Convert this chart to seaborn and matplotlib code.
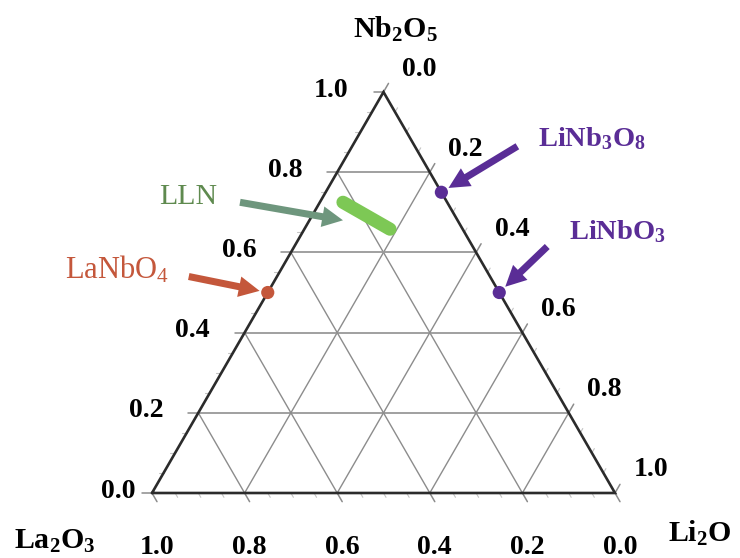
import numpy as np
import pandas as pd
import matplotlib
matplotlib.use("Agg")
import matplotlib.pyplot as plt
import seaborn as sns

# Ternary system La2O3 (bottom left) - Li2O (bottom right) - Nb2O5 (top)
corner_names = ["La$_2$O$_3$", "Li$_2$O", "Nb$_2$O$_5$"]
tick_values = [0.0, 0.2, 0.4, 0.6, 0.8, 1.0]
tick_labels = ["0.0", "0.2", "0.4", "0.6", "0.8", "1.0"]

# Known compounds, mole fractions (La2O3, Li2O, Nb2O5)
phase_names = ["LaNbO$_4$", "LiNb$_3$O$_8$", "LiNbO$_3$"]
phase_la = [0.5, 0.0, 0.0]
phase_li = [0.0, 0.25, 0.5]
phase_nb = [0.5, 0.75, 0.5]

# LLN solid-solution segment
lln_la = [0.225, 0.157]
lln_li = [0.050, 0.185]
lln_nb = [0.725, 0.658]

PX = 463.0          # pixels per unit triangle side
R3 = np.sqrt(3) / 2


def tern(li, nb):
    li = np.asarray(li, float)
    nb = np.asarray(nb, float)
    return li + nb / 2, nb * R3


sns.set_style("white")
plt.rcParams["font.family"] = ["Liberation Serif", "DejaVu Serif"]
plt.rcParams["mathtext.default"] = "regular"

fig = plt.figure(figsize=(7.4, 5.58), dpi=100)
ax = fig.add_axes([0, 0, 1, 1])
ax.set_xlim(-152 / PX, 588 / PX)
ax.set_ylim(-65 / PX, 493 / PX)
ax.set_axis_off()

grid_c = "#8c8c8c"
edge_c = "#2b2b2b"
tick_len = 10 / PX
minor_len = 5 / PX

# interior grid lines
for f in tick_values[1:-1]:
    # constant Nb2O5
    x, y = tern([0, 1 - f], [f, f])
    ax.plot(x, y, color="#999999", lw=1.3, zorder=1)
    # constant Li2O
    x, y = tern([f, f], [0, 1 - f])
    ax.plot(x, y, color=grid_c, lw=1.0, zorder=1)
    # constant La2O3
    x, y = tern([1 - f, 0], [0, 1 - f])
    ax.plot(x, y, color=grid_c, lw=1.0, zorder=1)

# outward tick marks (major every 0.2, minor every 0.05)
for f in np.arange(0, 1.0001, 0.05):
    major = any(abs(f - t) < 1e-6 for t in tick_values)
    L = tick_len if major else minor_len
    c = grid_c if major else "#c4c4c4"
    lw = 1.1 if major else 0.8
    # left edge (Nb2O5), horizontal to the left
    x0, y0 = tern(0, f)
    ax.plot([x0, x0 - L], [y0, y0], color=c, lw=lw, zorder=1)
    # right edge (Li2O), up-right
    x0, y0 = tern(f, 1 - f)
    ax.plot([x0, x0 + L * 0.5], [y0, y0 + L * R3], color=c, lw=lw, zorder=1)
    # bottom edge (La2O3), down-right
    x0, y0 = tern(1 - f, 0)
    ax.plot([x0, x0 + L * 0.5], [y0, y0 - L * R3], color=c, lw=lw, zorder=1)

# triangle outline
x, y = tern([0, 1, 0, 0], [0, 0, 1, 0])
ax.plot(x, y, color=edge_c, lw=1.9, zorder=2, solid_joinstyle="miter")

# tick labels
lab_kw = dict(fontsize=20, fontweight="bold", color="black",
              ha="center", va="center")
for f, s in zip(tick_values, tick_labels):
    x0, y0 = tern(0, f)
    dx = -34 if f == 0 else -52
    ax.text(x0 + dx / PX, y0 + 2 / PX, s, **lab_kw)
    x0, y0 = tern(f, 1 - f)
    ax.text(x0 + 36 / PX, y0 + 23 / PX, s, **lab_kw)
    x0, y0 = tern(1 - f, 0)
    ax.text(x0 + 5 / PX, y0 - 54 / PX, s, **lab_kw)

# corner labels
cn_kw = dict(fontsize=21.5, fontweight="bold", color="black",
             ha="center", va="center")
x0, y0 = tern(0, 0)
ax.text(x0 - 97 / PX, y0 - 48 / PX, corner_names[0], **cn_kw)
x0, y0 = tern(1, 0)
ax.text(x0 + 85 / PX, y0 - 40 / PX, corner_names[1], **cn_kw)
x0, y0 = tern(0, 1)
ax.text(x0 + 12 / PX, y0 + 63 / PX, corner_names[2], **cn_kw)

# LLN segment
lx, ly = tern(lln_li, lln_nb)
lln_df = pd.DataFrame({"x": lx, "y": ly})
sns.lineplot(data=lln_df, x="x", y="y", sort=False, color="#7dc855",
             lw=9.5, ax=ax, zorder=4, solid_capstyle="round")

# compound points
px_, py_ = tern(phase_li, phase_nb)
phase_colors = ["#c4573b", "#5a2d96", "#5a2d96"]
phase_df = pd.DataFrame({"x": px_, "y": py_, "phase": phase_names})
sns.scatterplot(data=phase_df, x="x", y="y", hue="phase",
                palette=dict(zip(phase_names, phase_colors)),
                s=90, edgecolor="none", legend=False, ax=ax, zorder=5)
ax.set_xlabel("")
ax.set_ylabel("")

ARROW = "simple,head_length=0.65,head_width=0.65,tail_width=0.22"


def arrow(tip, tail, color, shrink=6):
    ax.annotate("", xy=tip, xytext=tail,
                arrowprops=dict(arrowstyle=ARROW, mutation_scale=23,
                                color=color, lw=0, shrinkA=0, shrinkB=shrink),
                zorder=6)


text_offsets = [(-151, 23), (151, 54), (118, 61)]
tail_offsets = [(-79, 16), (76, 46), (48, 46)]
text_sizes = [22, 20.5, 20.5]
weights = ["normal", "bold", "bold"]
for name, x0, y0, c, (tx, ty), (ax_, ay_), fs, w in zip(
        phase_names, px_, py_, phase_colors, text_offsets, tail_offsets,
        text_sizes, weights):
    ax.text(x0 + tx / PX, y0 + ty / PX, name, fontsize=fs, fontweight=w,
            color=c, ha="center", va="center")
    arrow((x0, y0), (x0 + ax_ / PX, y0 + ay_ / PX), c)

# LLN label and arrow
ax.text(lx[0] - 155 / PX, ly[0] + 5 / PX, "LLN", fontsize=21.5,
        color="#5f8a4f", ha="center", va="center")
arrow((lx[0], ly[0] - 18 / PX), (lx[0] - 103 / PX, ly[0]), "#6e967d", shrink=0)

fig.savefig("out.png", dpi=100, facecolor="white")
